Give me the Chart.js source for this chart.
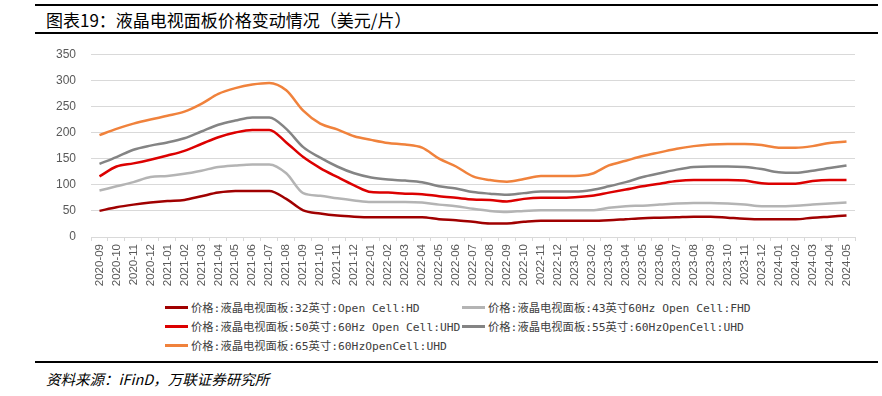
<!DOCTYPE html>
<html>
<head>
<meta charset="utf-8">
<script src="https://cdn.jsdelivr.net/npm/chart.js@4.4.1/dist/chart.umd.min.js"></script>
<style>
    body { margin: 0; width: 882px; height: 396px; background: #fff; position: relative; overflow: hidden; }
    .rule { position: absolute; left: 35px; width: 843px; height: 2px; background: #000; }
    #title { position: absolute; left: 46px; top: 7px; font: 17px "Noto Sans CJK SC", sans-serif; color: #000; white-space: nowrap; }
    #source { position: absolute; left: 46px; top: 368px; font: italic 14.5px "Noto Sans CJK SC", sans-serif; color: #000; white-space: nowrap; }
    #wrap { position: absolute; left: 0; top: 32px; width: 882px; height: 264px; }
    #legend { position: absolute; left: 165px; top: 298px; font: 11.3px "DejaVu Sans Mono", "Noto Sans CJK SC", monospace; color: #404040; }
    .item { position: absolute; white-space: nowrap; display: flex; align-items: center; height: 18px; }
    .swatch { width: 23px; height: 3px; margin-right: 3px; }
</style>
</head>
<body>
<div class="rule" style="top:4px"></div>
<div id="title">图表19：液晶电视面板价格变动情况（美元/片）</div>
<div class="rule" style="top:32px"></div>
<div id="wrap"><canvas id="lineChart"></canvas></div>
<div id="legend"></div>
<div class="rule" style="top:361px"></div>
<div id="source">资料来源：iFinD，万联证券研究所</div>
<script>
const months = [
    '2020-09', '2020-10', '2020-11', '2020-12',
    '2021-01', '2021-02', '2021-03', '2021-04', '2021-05', '2021-06',
    '2021-07', '2021-08', '2021-09', '2021-10', '2021-11', '2021-12',
    '2022-01', '2022-02', '2022-03', '2022-04', '2022-05', '2022-06',
    '2022-07', '2022-08', '2022-09', '2022-10', '2022-11', '2022-12',
    '2023-01', '2023-02', '2023-03', '2023-04', '2023-05', '2023-06',
    '2023-07', '2023-08', '2023-09', '2023-10', '2023-11', '2023-12',
    '2024-01', '2024-02', '2024-03', '2024-04', '2024-05'
];

const labels32 = '价格:液晶电视面板:32英寸:Open Cell:HD';
const labels43 = '价格:液晶电视面板:43英寸60Hz Open Cell:FHD';
const labels50 = '价格:液晶电视面板:50英寸:60Hz Open Cell:UHD';
const labels55 = '价格:液晶电视面板:55英寸:60HzOpenCell:UHD';
const labels65 = '价格:液晶电视面板:65英寸:60HzOpenCell:UHD';

const tv32 = [50, 57, 62, 66, 69, 71, 78, 85, 88, 88, 88, 73, 51, 45, 41,
    39, 38, 38, 38, 38, 34, 32, 29, 26, 26, 29, 31, 31, 31, 31,
    32, 34, 36, 37, 38, 39, 39, 37, 35, 34, 34, 34, 37, 39, 41];
const tv43 = [89, 97, 105, 115, 117, 121, 127, 134, 137, 139, 139, 122, 84, 79, 74,
    70, 67, 67, 67, 66, 62, 59, 54, 50, 48, 50, 51, 51, 51, 51,
    56, 59, 60, 62, 64, 65, 65, 64, 62, 59, 59, 60, 62, 64, 66];
const tv50 = [116, 135, 141, 148, 156, 165, 178, 191, 200, 205, 205, 181, 153, 132, 115,
    99, 86, 85, 83, 82, 78, 75, 72, 71, 68, 73, 75, 75, 76, 79,
    85, 91, 97, 102, 107, 109, 109, 109, 108, 103, 102, 102, 107, 109, 109];
const tv55 = [140, 153, 167, 175, 181, 189, 202, 215, 223, 229, 229, 207, 172, 152, 135,
    122, 114, 110, 108, 105, 97, 93, 86, 83, 81, 84, 87, 87, 87, 90,
    97, 105, 115, 122, 129, 134, 135, 135, 134, 130, 124, 123, 127, 132, 137];
const tv65 = [195, 207, 217, 225, 232, 240, 255, 274, 285, 292, 295, 281, 242, 217, 206,
    193, 186, 180, 177, 171, 150, 135, 116, 109, 106, 111, 117, 117, 117, 121,
    137, 146, 155, 162, 169, 174, 177, 178, 178, 176, 171, 171, 174, 180, 183];

const yTicks = [0, 50, 100, 150, 200, 250, 300, 350];

function series(label, data, color) {
    return {
        label: label,
        data: data,
        borderColor: color,
        backgroundColor: color,
        borderWidth: 2.5,
        pointRadius: 0,
        tension: 0.3,
        cubicInterpolationMode: 'monotone',
        fill: false
    };
}

const datasets = [
    series(labels32, tv32, '#A00000'),
    series(labels43, tv43, '#B4B4B4'),
    series(labels50, tv50, '#DC0000'),
    series(labels55, tv55, '#848484'),
    series(labels65, tv65, '#F0823C')
];

var ctx = document.getElementById('lineChart').getContext('2d');
var myChart = new Chart(ctx, {
    type: 'line',
    data: { labels: months, datasets: datasets },
    options: {
        responsive: true,
        maintainAspectRatio: false,
        animation: false,
        layout: { padding: { top: 6, right: 27, left: 0, bottom: 0 } },
        plugins: { legend: { display: false }, tooltip: { enabled: false } },
        scales: {
            x: {
                offset: true,
                grid: { display: true, drawOnChartArea: false, drawTicks: true, tickLength: 4, color: '#D9D9D9', offset: true },
                border: { color: '#D9D9D9' },
                ticks: {
                    autoSkip: false, maxRotation: 90, minRotation: 90, padding: 3,
                    color: '#595959', font: { family: 'Liberation Sans', size: 11.5 }
                },
                afterFit: scale => { scale.height = 59; }
            },
            y: {
                min: 0, max: 350,
                afterBuildTicks: scale => { scale.ticks = yTicks.map(v => ({ value: v })); },
                grid: { color: '#D9D9D9', drawTicks: false },
                border: { display: false },
                ticks: {
                    padding: 15, color: '#595959', font: { family: 'Liberation Sans', size: 12 }
                },
                afterFit: scale => { scale.width = 91; }
            }
        }
    }
});

// two-column legend built from the chart's datasets
const legend = document.getElementById('legend');
const slots = [[0, 0], [297, 0], [0, 19], [297, 19], [0, 38]];
myChart.data.datasets.forEach((ds, i) => {
    const el = document.createElement('div');
    el.className = 'item';
    el.style.left = slots[i][0] + 'px';
    el.style.top = slots[i][1] + 'px';
    el.innerHTML = '<span class="swatch" style="background:' + ds.borderColor + '"></span>' + ds.label;
    legend.appendChild(el);
});
</script>
</body>
</html>
